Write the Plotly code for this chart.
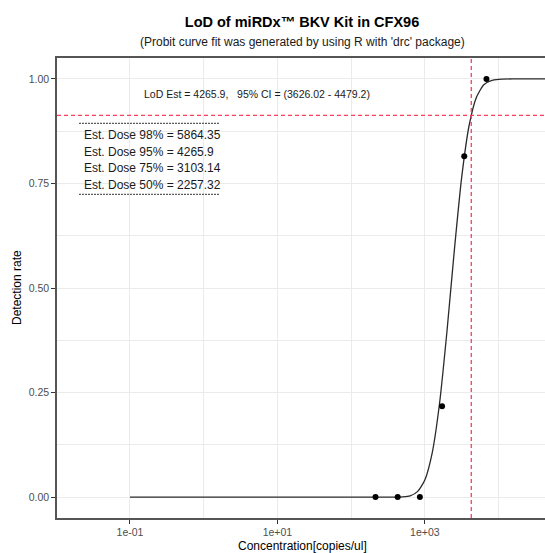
import plotly.graph_objects as go

# Observed data (concentration, detection rate)
conc = [214, 428, 856, 1712, 3425, 6850]
rate = [0.0, 0.0, 0.0, 0.217, 0.815, 1.0]

# Fitted probit curve
curve_x = [0.1, 10, 100, 316, 501, 631, 794, 1000, 1259, 1585, 1995, 2512,
           3162, 3981, 5012, 6310, 7943, 10000, 15849, 100000]
curve_y = [0.0, 0.0, 0.0, 0.0, 0.0006, 0.003, 0.013, 0.041, 0.106, 0.225, 0.396,
           0.59, 0.765, 0.888, 0.956, 0.986, 0.996, 0.999, 1.0, 1.0]

lod = 4265.9
lod_rate = 0.913

x_tickvals = [0.1, 10, 1000]
x_ticktext = ["1e-01", "1e+01", "1e+03"]
x_minor = [1, 100, 10000]
y_tickvals = [0, 0.25, 0.5, 0.75, 1.0]
y_ticktext = ["0.00", "0.25", "0.50", "0.75", "1.00"]

lod_text = "LoD Est = 4265.9,   95% CI = (3626.02 - 4479.2)"
dose_lines = ["Est. Dose 98% = 5864.35", "Est. Dose 95% = 4265.9",
              "Est. Dose 75% = 3103.14", "Est. Dose 50% = 2257.32"]

FONT = "Liberation Sans, Arial, sans-serif"
W, H = 545, 553
ML, MR, MT, MB = 57, 0, 58, 35
PW, PH = W - ML - MR, H - MT - MB

def px_x(x):
    return (x - ML) / PW

def px_y(y):
    return (H - MB - y) / PH

fig = go.Figure()
fig.add_trace(go.Scatter(x=curve_x, y=curve_y, mode="lines",
                         line=dict(color="#2b2b2b", width=1.3, shape="spline", smoothing=0.6),
                         hoverinfo="skip", showlegend=False))
fig.add_trace(go.Scatter(x=conc, y=rate, mode="markers",
                         marker=dict(color="black", size=6), showlegend=False))

red = "#FF3D62"
fig.add_vline(x=lod, line=dict(color=red, width=1.3, dash="4px,3px"))
fig.add_hline(y=lod_rate, line=dict(color=red, width=1.3, dash="4px,3px"))

# dashed separators around the dose block
for yy in (123.3, 194.3):
    fig.add_shape(type="line", xref="paper", yref="paper",
                  x0=px_x(79), x1=px_x(220), y0=px_y(yy), y1=px_y(yy),
                  line=dict(color="#333333", width=1, dash="2px,1px"))

fig.add_annotation(text=lod_text, xref="paper", yref="paper",
                   x=px_x(257), y=px_y(93.5), showarrow=False,
                   xanchor="center", yanchor="middle",
                   font=dict(family=FONT, size=10.5, color="#1a1a1a"))
for t, yy in zip(dose_lines, [135, 151.5, 168, 185]):
    fig.add_annotation(text=t, xref="paper", yref="paper",
                       x=px_x(82), y=px_y(yy), showarrow=False,
                       xanchor="left", yanchor="middle",
                       font=dict(family=FONT, size=12, color="#1a1a1a"))

fig.add_annotation(text="(Probit curve fit was generated by using R with 'drc' package)",
                   xref="paper", yref="paper", x=px_x(302), y=px_y(42.5),
                   showarrow=False, xanchor="center", yanchor="middle",
                   font=dict(family=FONT, size=12, color="#1a1a1a"))

# axis titles placed as annotations for exact positions
fig.add_annotation(text="Concentration[copies/ul]", xref="paper", yref="paper",
                   x=px_x(302), y=px_y(546), showarrow=False,
                   xanchor="center", yanchor="middle",
                   font=dict(family=FONT, size=12, color="black"))
fig.add_annotation(text="Detection rate", xref="paper", yref="paper",
                   x=px_x(17), y=0.5, showarrow=False, textangle=-90,
                   xanchor="center", yanchor="middle",
                   font=dict(family=FONT, size=12, color="black"))

fig.update_layout(
    width=W, height=H,
    margin=dict(l=ML, r=MR, t=MT, b=MB),
    paper_bgcolor="white", plot_bgcolor="white",
    title=dict(text="<b>LoD of miRDx™ BKV Kit in CFX96</b>", x=302 / W, xanchor="center",
               y=1 - 21.5 / H, yanchor="middle",
               font=dict(family=FONT, size=14.5, color="black")),
    font=dict(family=FONT),
)
fig.update_xaxes(type="log", range=[-1.99, 4.63], automargin=False,
                 tickvals=x_tickvals, ticktext=x_ticktext,
                 tickfont=dict(size=10.5, color="#4D4D4D", family=FONT),
                 ticks="outside", ticklen=4, tickcolor="#333333",
                 showgrid=True, gridcolor="#EBEBEB", gridwidth=1,
                 minor=dict(tickvals=x_minor, showgrid=True, gridcolor="#EBEBEB", gridwidth=0.6, ticks=""),
                 showline=True, linecolor="#555555", linewidth=1.5, mirror=True,
                 zeroline=False)
fig.update_yaxes(range=[-0.05, 1.05], automargin=False,
                 tickvals=y_tickvals, ticktext=y_ticktext,
                 tickfont=dict(size=10.5, color="#4D4D4D", family=FONT),
                 ticks="outside", ticklen=4, tickcolor="#333333",
                 showgrid=True, gridcolor="#EBEBEB", gridwidth=1,
                 minor=dict(dtick=0.125, tick0=0.125, showgrid=True, gridcolor="#EBEBEB", gridwidth=0.6, ticks=""),
                 showline=True, linecolor="#555555", linewidth=1.5, mirror=False,
                 zeroline=False)

fig.write_html("out.html", config={"displayModeBar": False},
               post_script="document.body.style.margin='0';document.body.style.overflow='hidden';")
